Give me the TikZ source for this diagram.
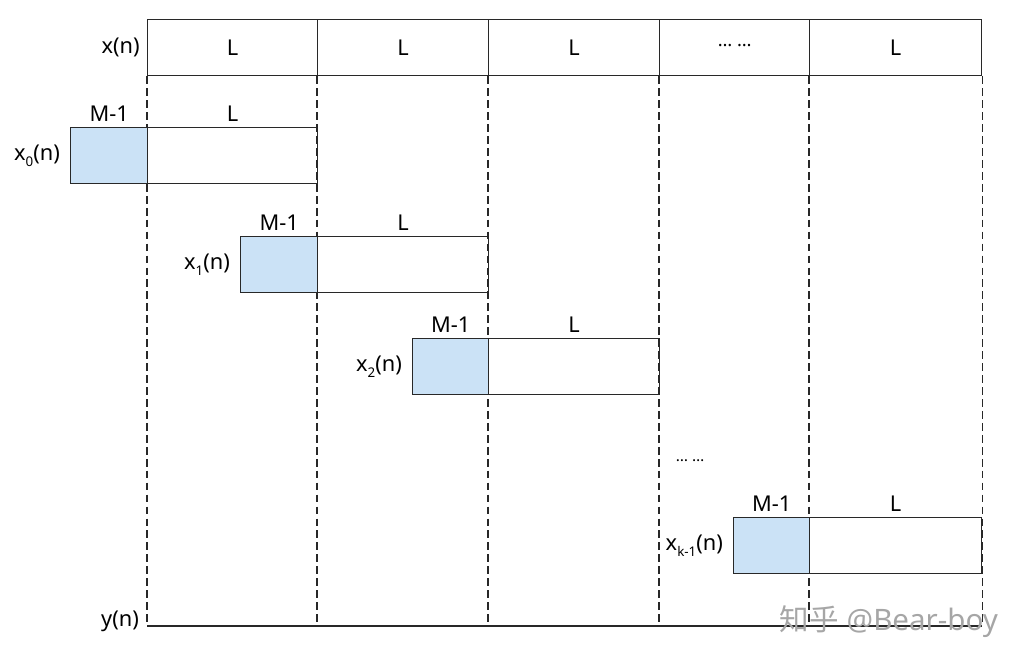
\documentclass[tikz,border=0pt]{standalone}
\usepackage{fontspec}
\setmainfont{Noto Sans}
\newfontfamily\cjk{Noto Sans CJK SC}
\usetikzlibrary{positioning}
\definecolor{blockblue}{RGB}{203,226,246}
\definecolor{linedark}{RGB}{40,40,40}
\newcommand\lowidx[1]{\raisebox{-0.5ex}{\fontsize{9.5}{10}\selectfont #1}}

\tikzset{
  cell/.style={draw=linedark,line width=0.9pt,inner sep=0pt,minimum height=1.4cm,anchor=north west,
    font=\fontsize{15.5}{18}\selectfont},
  mblock/.style={cell,fill=blockblue,minimum width=1.925cm},
  lblock/.style={cell,minimum width=4.25cm},
  tag/.style={font=\fontsize{15.5}{18}\selectfont,inner sep=2pt},
  gridline/.style={draw=linedark,line width=0.8pt,dash pattern=on 5.5pt off 3pt}
}

\begin{document}
\begin{tikzpicture}[x=0.025cm,y=-0.025cm]
  \useasboundingbox (0,0) rectangle (1036,666);

  % input sequence
  \node[cell,minimum width=4.25cm] (xa) at (147,19) {L};
  \node[cell,minimum width=4.275cm] (xb) at (317,19) {L};
  \node[cell,minimum width=4.275cm] (xc) at (488,19) {L};
  \node[cell,minimum width=3.75cm] (xd) at (659,19) {\raisebox{0.3ex}{\fontsize{13}{13}\selectfont … …}};
  \node[cell,minimum width=4.3cm] (xe) at (809,19) {L};
  \node[tag,left=3pt of xa] (xlab) {x(n)};

  \coordinate (ybot) at (0,626);
  \foreach \c in {xa,xb,xc,xd,xe}
    \draw[gridline] (\c.south west) -- (\c.south west |- ybot);
  \draw[gridline] (xe.south east) -- (xe.south east |- ybot);
  \draw[linedark,line width=0.9pt] (xa.south west |- ybot) -- (xe.south east |- ybot);
  \node[tag,anchor=east] (ylab) at (142,621) {y(n)};

  % blocks
  \node[mblock] (m0) at (70,127) {};
  \node[lblock] (l0) at (147,127) {};
  \node[mblock] (m1) at (240,236) {};
  \node[lblock,minimum width=4.275cm] (l1) at (317,236) {};
  \node[mblock,minimum width=1.9cm] (m2) at (412,338) {};
  \node[lblock,minimum width=4.275cm] (l2) at (488,338) {};
  \node[mblock,minimum width=1.9cm] (m3) at (733,517) {};
  \node[lblock,minimum width=4.3cm] (l3) at (809,517) {};

  \foreach \m/\l/\s in {m0/l0/0,m1/l1/1,m2/l2/2,m3/l3/{k-1}}{
    \node[tag,above=2pt of \m] {M-1};
    \node[tag,above=2pt of \l] {L};
    \node[tag,left=5pt of \m] {x\lowidx{\s}(n)};
  }
  \node[tag] (gap) at (690,461) {\fontsize{11}{11}\selectfont … …};

  \node[anchor=west,text=black!35,font=\fontsize{21}{24}\selectfont] (mark) at (775,622) {{\cjk 知乎} @Bear-boy};
\end{tikzpicture}
\end{document}
